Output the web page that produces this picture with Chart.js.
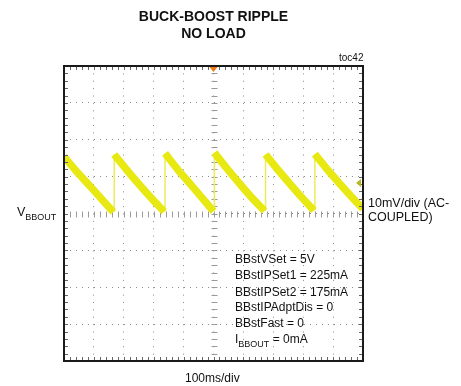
<!DOCTYPE html>
<html>
<head>
<meta charset="utf-8">
<title>Buck-boost ripple, no load</title>
<script src="https://cdn.jsdelivr.net/npm/chart.js@4.4.0/dist/chart.umd.min.js"></script>
<style>
  html, body { margin: 0; padding: 0; background: #fff; }
  #wrap { position: relative; width: 461px; height: 386px; font-family: 'Liberation Sans', Arial, sans-serif; color: #111; }
  #wrap canvas { position: absolute; left: 0; top: 0; }
  .lbl { position: absolute; white-space: nowrap; line-height: 1; font-size: 12px; transform-origin: 0 50%; }
  .lbl .sub { font-size: 9px; position: relative; top: 4px; }
</style>
</head>
<body>
<div id="wrap">
  <canvas id="scope" width="461" height="386"></canvas>
  <div class="lbl" id="toc" style="left:339px; top:53px; font-size:10px;">toc42</div>
  <div class="lbl" style="left:17px; top:206px; font-size:12.5px;">V<span class="sub">BBOUT</span></div>
  <div class="lbl" style="left:368px; top:197px; font-size:12.5px;">10mV/div (AC-</div>
  <div class="lbl" style="left:368px; top:211px; font-size:12.5px;">COUPLED)</div>
  <div class="lbl" style="left:185px; top:372px;">100ms/div</div>
  <div id="notes"></div>
</div>
<script>
// x = time in ms (100 ms/div), y = ripple in mV (10 mV/div, AC-coupled)
// one row per discharge ramp
const cycleTimes = [
  [0, 40, 85, 125, 165],
  [168, 208, 250, 293, 335],
  [338, 378, 420, 461, 500],
  [503, 544, 583, 628, 671],
  [674, 714, 755, 797, 836],
  [839, 880, 920, 960, 1000]
];
const cycleRipple = [
  [15.4, 11.6, 7.6, 4.0, 0.4],
  [16.0, 12.0, 8.0, 4.1, 0.5],
  [16.3, 12.2, 8.2, 4.3, 0.6],
  [16.5, 12.3, 8.5, 4.3, 0.7],
  [16.0, 12.0, 8.1, 4.2, 0.8],
  [16.1, 12.0, 8.3, 4.7, 1.2]
];
const timeTicks = [0, 100, 200, 300, 400, 500, 600, 700, 800, 900, 1000];
const voltTicks = [-40, -30, -20, -10, 0, 10, 20, 30, 40];
const triggerPos = 500;     // ms, orange marker on top
const triggerLevel = 8.3;   // mV, marker on right edge
const settings = [
  'BBstVSet = 5V',
  'BBstIPSet1 = 225mA',
  'BBstIPSet2 = 175mA',
  'BBstIPAdptDis = 0',
  'BBstFast = 0'
];

// settings box, last line has a subscript so it is built by hand
const notes = document.getElementById('notes');
const noteTops = [252.5, 269, 285.5, 301, 317];
settings.forEach((txt, i) => {
  const el = document.createElement('div');
  el.className = 'lbl';
  el.style.left = '235px';
  el.style.top = noteTops[i] + 'px';
  el.textContent = txt;
  notes.appendChild(el);
});
const last = document.createElement('div');
last.className = 'lbl';
last.style.left = '235px';
last.style.top = '333px';
last.innerHTML = 'I<span class="sub">BBOUT</span> = 0mA';
notes.appendChild(last);

// ramps as one dataset broken by nulls, fast edges as a thin second one
const rampPoints = [];
const edgePoints = [];
cycleTimes.forEach((times, c) => {
  times.forEach((t, i) => rampPoints.push({ x: t, y: cycleRipple[c][i] }));
  rampPoints.push({ x: times[times.length - 1] + 1, y: null });
  if (c > 0) {
    const prev = cycleRipple[c - 1];
    edgePoints.push({ x: times[0], y: prev[prev.length - 1] });
    edgePoints.push({ x: times[0], y: cycleRipple[c][0] });
    edgePoints.push({ x: times[0] + 0.5, y: null });
  }
});

const DIV_X = 300 / 10, DIV_Y = 295 / 8;

// scope graticule: centre cross ticks, edge ticks, frame and markers
const graticule = {
  id: 'graticule',
  beforeDatasetsDraw(chart) {
    const { ctx, scales: { x, y } } = chart;
    const xc = Math.round(x.getPixelForValue(500)) + 0.5;
    const yc = Math.round(y.getPixelForValue(0)) + 0.5;
    ctx.save();
    ctx.strokeStyle = '#9a9a9a';
    ctx.lineWidth = 1;
    ctx.beginPath();
    for (let t = 0; t <= 1000; t += 20) {
      const px = Math.round(x.getPixelForValue(t)) + 0.5;
      ctx.moveTo(px, yc - 3); ctx.lineTo(px, yc + 3);
    }
    for (let v = -40; v <= 40; v += 2) {
      const py = Math.round(y.getPixelForValue(v)) + 0.5;
      ctx.moveTo(xc - 3, py); ctx.lineTo(xc + 3, py);
    }
    ctx.stroke();
    ctx.restore();
  },
  afterDatasetsDraw(chart) {
    const { ctx, chartArea: a, scales: { x, y } } = chart;
    ctx.save();
    ctx.strokeStyle = '#666';
    ctx.lineWidth = 1;
    ctx.beginPath();
    for (let t = 20; t < 1000; t += 20) {
      const px = Math.round(x.getPixelForValue(t)) + 0.5;
      ctx.moveTo(px, a.top); ctx.lineTo(px, a.top + 4);
      ctx.moveTo(px, a.bottom); ctx.lineTo(px, a.bottom - 4);
    }
    for (let v = -38; v < 40; v += 2) {
      const py = Math.round(y.getPixelForValue(v)) + 0.5;
      ctx.moveTo(a.left, py); ctx.lineTo(a.left + 4, py);
      ctx.moveTo(a.right, py); ctx.lineTo(a.right - 4, py);
    }
    ctx.stroke();

    ctx.strokeStyle = '#1a1a1a';
    ctx.lineWidth = 2;
    ctx.strokeRect(a.left, a.top, a.right - a.left, a.bottom - a.top);

    // trigger position
    const tx = x.getPixelForValue(triggerPos);
    ctx.fillStyle = '#ee7a10';
    ctx.beginPath();
    ctx.moveTo(tx - 4, a.top + 1);
    ctx.lineTo(tx + 4, a.top + 1);
    ctx.lineTo(tx, a.top + 6);
    ctx.closePath();
    ctx.fill();

    // trigger level
    const ty = y.getPixelForValue(triggerLevel);
    ctx.fillStyle = '#b8b820';
    ctx.beginPath();
    ctx.moveTo(a.right - 2, ty - 4);
    ctx.lineTo(a.right - 2, ty + 4);
    ctx.lineTo(a.right - 7, ty);
    ctx.closePath();
    ctx.fill();
    ctx.restore();
  }
};

new Chart(document.getElementById('scope'), {
  type: 'line',
  data: {
    datasets: [
      {
        label: 'VBBOUT ramp',
        data: rampPoints,
        borderColor: '#e8e812',
        borderWidth: 7.5,
        borderCapStyle: 'butt',
        pointRadius: 0,
        spanGaps: false,
        cubicInterpolationMode: 'monotone'
      },
      {
        label: 'VBBOUT edge',
        data: edgePoints,
        borderColor: '#ecec5a',
        borderWidth: 1.5,
        pointRadius: 0,
        spanGaps: false
      }
    ]
  },
  options: {
    responsive: false,
    animation: false,
    events: [],
    layout: { padding: { left: 64, right: 98, top: 0, bottom: 25 } },
    plugins: {
      legend: { display: false },
      tooltip: { enabled: false },
      title: {
        display: true,
        text: ['BUCK-BOOST RIPPLE', 'NO LOAD'],
        color: '#111',
        font: { family: "'Liberation Sans', Arial, sans-serif", size: 14, weight: 'bold', lineHeight: 1.2 },
        padding: { top: 9, bottom: 23.4 }
      }
    },
    scales: {
      x: {
        type: 'linear',
        min: 0,
        max: 1000,
        afterBuildTicks: s => { s.ticks = timeTicks.map(v => ({ value: v })); },
        ticks: { display: false },
        grid: { color: '#8c8c8c', lineWidth: 1, drawTicks: false },
        border: { display: false, dash: [1, DIV_Y / 5 - 1] }
      },
      y: {
        type: 'linear',
        min: -40,
        max: 40,
        afterBuildTicks: s => { s.ticks = voltTicks.map(v => ({ value: v })); },
        ticks: { display: false },
        grid: { color: '#8c8c8c', lineWidth: 1, drawTicks: false },
        border: { display: false, dash: [1, DIV_X / 5 - 1] }
      }
    }
  },
  plugins: [graticule]
});
</script>
</body>
</html>
